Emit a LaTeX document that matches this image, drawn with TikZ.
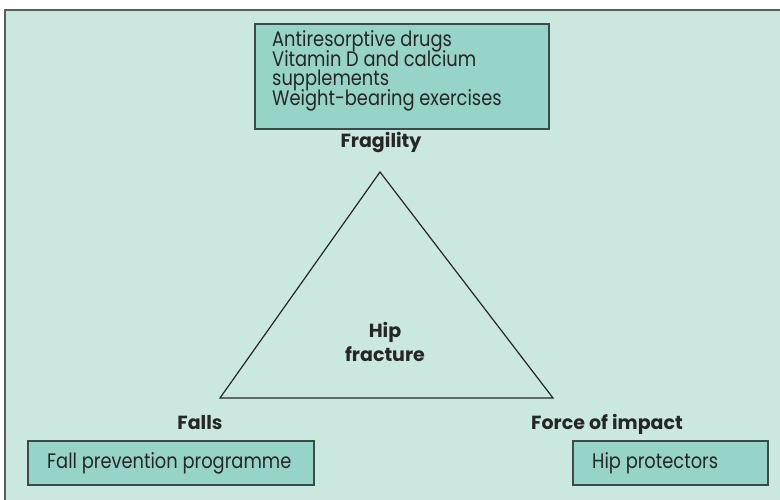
\documentclass[tikz,border=0pt]{standalone}
\usepackage{fontspec}
\setmainfont{Poppins}[FakeStretch=0.85]
\newfontfamily\boldlab{Poppins Bold}
\newcommand\mytightlines{\lineskiplimit=-100pt\relax}
\definecolor{panelbg}{HTML}{CBE8E0}
\definecolor{boxfill}{HTML}{97D4C8}
\definecolor{boxedge}{HTML}{3C4A48}
\definecolor{panedge}{HTML}{5A5F5E}
\tikzset{
  actionbox/.style={draw=boxedge, line width=1.2pt, fill=boxfill},
  boxtext/.style={font=\fontsize{21}{19.5}\selectfont\mytightlines, text=black!85, inner sep=0pt, anchor=west, align=left},
  lab/.style={font=\boldlab\fontsize{19}{24}\selectfont\mytightlines, text=black!85, inner sep=0pt, align=center},
  tri/.style={draw=black!85, line width=1.2pt}
}
\begin{document}
\begin{tikzpicture}[x=1pt,y=-1pt]
\useasboundingbox (0,0) rectangle (780,500);
\fill[white] (0,0) rectangle (780,500);
\begin{scope}
\clip (0,0) rectangle (780,500);
\draw[panedge, line width=1.2pt, fill=panelbg] (5,10) rectangle (790,510);
\end{scope}
% top box
\draw[actionbox] (255,24) rectangle (549,129);
\node[boxtext] (top) at (272,71) {Antiresorptive drugs\\Vitamin D and calcium\\supplements\\Weight-bearing exercises};
% triangle
\coordinate (apex) at (380,172);
\coordinate (bl) at (220,398);
\coordinate (br) at (553,398);
\draw[tri] (apex) -- (bl) -- (br) -- cycle;
\node[lab] (frag) at (381,143) {Fragility};
\node[lab] (hip) at (385,342) {Hip\\fracture};
\node[lab] (falls) at (200,423) {Falls};
\node[lab] (force) at (607,424) {Force of impact};
% bottom boxes
\draw[actionbox] (28,441) rectangle (314,485);
\node[boxtext] (fall) at (47,463) {Fall prevention programme};
\draw[actionbox] (573,441) rectangle (768,485);
\node[boxtext] (prot) at (592,463) {Hip protectors};
\end{tikzpicture}
\end{document}
